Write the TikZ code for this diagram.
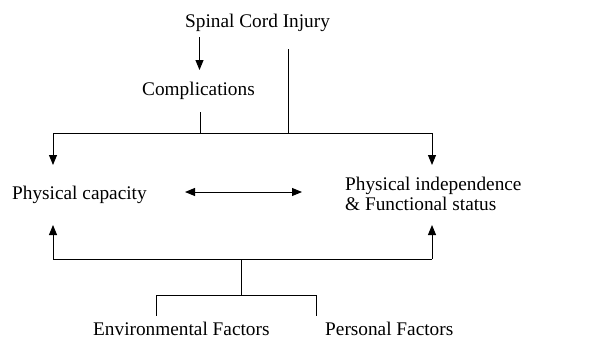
\documentclass[tikz,border=0pt]{standalone}
\usepackage{fontspec}
\setmainfont{Liberation Serif}
\usetikzlibrary{arrows.meta}
\begin{document}
\begin{tikzpicture}[x=1pt,y=-1pt,
  font=\fontsize{19.3}{20}\selectfont,
  txt/.style={inner sep=0pt, anchor=base west},
  conn/.style={line width=1pt},
  arr/.style={conn,-{Triangle[length=10pt,width=8pt]}},
  darr/.style={conn,{Triangle[length=10pt,width=8pt]}-{Triangle[length=10pt,width=8pt]}}]
\useasboundingbox (0,0) rectangle (598,340);
\node[txt] (sci) at (185,27.3) {Spinal Cord Injury};
\node[txt] (comp) at (142,95.7) {Complications};
\node[txt] (pc) at (12,199.3) {Physical capacity};
\node[txt] (pi1) at (345,190.7) {Physical independence};
\node[txt] (pi2) at (345,210.7) {\& Functional status};
\node[txt] (env) at (93,335.5) {Environmental Factors};
\node[txt] (per) at (325,335.5) {Personal Factors};
% coordinates
\coordinate (s1) at (199.5,37);
\coordinate (c1) at (199.5,70);
\coordinate (c2) at (200,112);
\coordinate (j1) at (200,133);
\coordinate (s2) at (288,49);
\coordinate (j2) at (288,133);
\coordinate (tl) at (53,133);
\coordinate (tr) at (432,133);
\coordinate (pcT) at (53,165);
\coordinate (piT) at (432,165);
\coordinate (da) at (185,192);
\coordinate (db) at (302,192);
\coordinate (pcB) at (53,225);
\coordinate (piB) at (432,225);
\coordinate (bl) at (53,259);
\coordinate (br) at (432,259);
\coordinate (bm) at (241,259);
\coordinate (fm) at (241,295);
\coordinate (fl) at (156,295);
\coordinate (fr) at (316,295);
\coordinate (envT) at (156,316);
\coordinate (perT) at (316,316);
% connectors
\draw[arr] (s1) -- (c1);
\draw[conn] (c2) -- (j1);
\draw[conn] (s2) -- (j2);
\draw[conn] (tl) -- (tr);
\draw[arr] (tl) -- (pcT);
\draw[arr] (tr) -- (piT);
\draw[darr] (da) -- (db);
\draw[conn] (bl) -- (br);
\draw[arr] (bl) -- (pcB);
\draw[arr] (br) -- (piB);
\draw[conn] (bm) -- (fm);
\draw[conn] (fl) -- (fr);
\draw[conn] (fl) -- (envT);
\draw[conn] (fr) -- (perT);
\end{tikzpicture}
\end{document}
